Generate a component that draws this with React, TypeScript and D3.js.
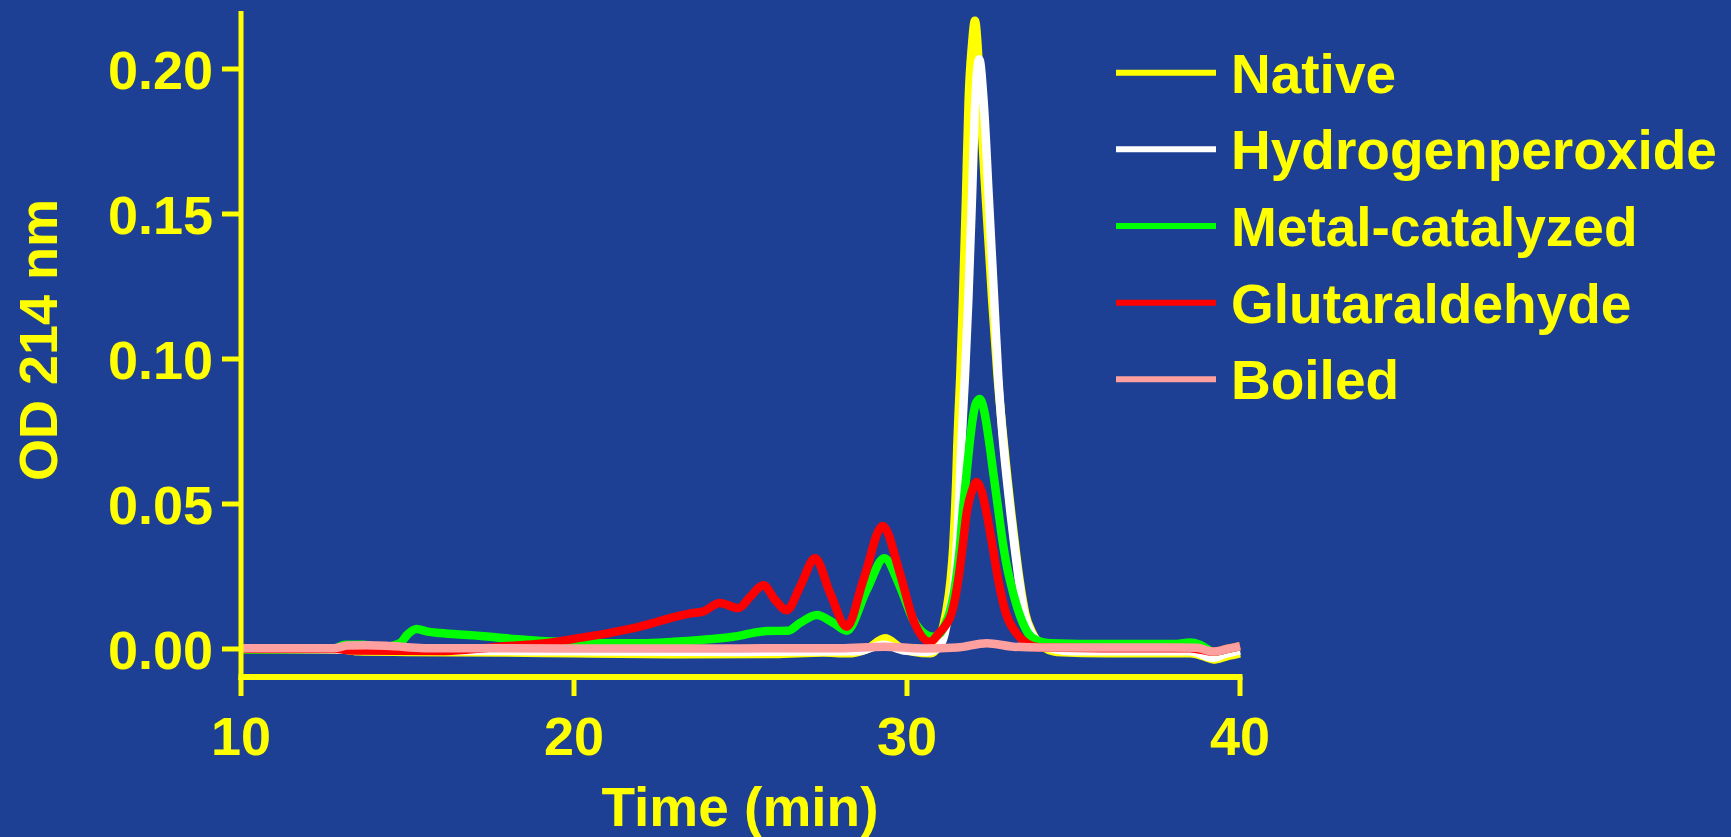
import React from 'react';
import * as d3 from 'd3';

type Pt = [number, number];

const W = 1731;
const H = 837;
const BG = '#1d4095';
const AXIS = '#ffff00';

const xTicks = [10, 20, 30, 40];
const yTicks = [0, 0.05, 0.1, 0.15, 0.2];
const xDomain: [number, number] = [10, 40];
const yDomain: [number, number] = [-0.01, 0.22];

const seriesNames = ['Native', 'Hydrogenperoxide', 'Metal-catalyzed', 'Glutaraldehyde', 'Boiled'];
const seriesColors = ['#ffff00', '#ffffff', '#00ff00', '#ff0000', '#ffa0a0'];

const nativeData: Pt[] = [
  [10, 0.0002], [12.8, 0.0002], [13.5, -0.0008], [15, -0.001], [18, -0.0012], [20, -0.0015],
  [23, -0.0018], [26, -0.0017], [27.5, -0.0012], [28.2, -0.0015], [28.8, 0.0], [29.34, 0.0037],
  [29.8, 0.0005], [30.2, -0.001], [30.7, -0.0015], [30.85, -0.0005], [31.0, 0.004],
  [31.17, 0.0123], [31.31, 0.0238], [31.39, 0.0353], [31.44, 0.0468], [31.48, 0.0583],
  [31.51, 0.0698], [31.55, 0.0813], [31.6, 0.094], [31.68, 0.12], [31.77, 0.155], [31.85, 0.189],
  [31.95, 0.208], [32.04, 0.2166], [32.12, 0.208], [32.2, 0.189], [32.37, 0.155], [32.56, 0.12],
  [32.72, 0.094], [32.87, 0.075], [33.02, 0.0583], [33.13, 0.0468], [33.25, 0.0353],
  [33.38, 0.0238], [33.55, 0.0123], [33.77, 0.0054], [34.0, 0.0015], [34.5, -0.001], [36, -0.0015],
  [38.5, -0.0015], [38.9, -0.0025], [39.2, -0.0036], [39.6, -0.0025], [40, -0.0015],
];

const peroxideData: Pt[] = [
  [10, -0.0002], [13, -0.0003], [16, -0.0006], [20, -0.0008], [25, -0.001], [28.5, -0.0008],
  [29.3, 0.0015], [29.9, -0.0005], [30.6, -0.001], [30.9, 0.0], [31.1, 0.004], [31.25, 0.0123],
  [31.42, 0.0238], [31.55, 0.0468], [31.63, 0.0698], [31.74, 0.094], [31.84, 0.12], [31.95, 0.155],
  [32.05, 0.189], [32.17, 0.2034], [32.3, 0.189], [32.46, 0.155], [32.62, 0.12], [32.74, 0.094],
  [32.86, 0.075], [33.0, 0.0583], [33.11, 0.0468], [33.23, 0.0353], [33.36, 0.0238],
  [33.52, 0.0123], [33.74, 0.0054], [34.0, 0.002], [34.4, 0.0], [35, -0.0008],
  [38.5, -0.0008], [39.2, -0.003], [39.6, -0.0015], [40, -0.0005],
];

const metalData: Pt[] = [
  [10, -0.0003], [12.8, 0.0], [13.1, 0.0015], [13.7, 0.0015], [14.2, 0.0005], [14.77, 0.002],
  [15.0, 0.005], [15.27, 0.0069], [15.6, 0.006], [15.97, 0.0055], [17.0, 0.0047], [17.48, 0.0042],
  [18.5, 0.0032], [19.5, 0.0025], [21, 0.002], [22, 0.002], [23, 0.0025], [23.78, 0.0031],
  [24.78, 0.0042], [25.79, 0.0062], [26.43, 0.0063], [26.79, 0.009], [27.29, 0.0117],
  [27.79, 0.009], [28.19, 0.0063], [28.79, 0.0203], [29.32, 0.0313], [29.79, 0.0215],
  [30.19, 0.01], [30.5, 0.0055], [30.78, 0.0042], [31.0, 0.0055], [31.12, 0.008],
  [31.27, 0.0123], [31.47, 0.0238], [31.59, 0.0353], [31.67, 0.0468], [31.77, 0.0583],
  [31.87, 0.0698], [31.98, 0.08], [32.08, 0.085], [32.19, 0.0862], [32.32, 0.082], [32.46, 0.072],
  [32.6, 0.06], [32.73, 0.049], [32.86, 0.038], [33.0, 0.0285], [33.14, 0.0215], [33.37, 0.0123],
  [33.64, 0.0054], [33.9, 0.003], [34.3, 0.002], [36, 0.0017], [38, 0.0017], [38.5, 0.0022],
  [38.8, 0.0015], [39.2, -0.0009], [39.6, 0.0], [40, 0.001],
];

const glutaraldehydeData: Pt[] = [
  [10, 0.0], [12.9, 0.0], [13.3, -0.0005], [16, -0.0007], [17, 0.0], [18, 0.001], [19, 0.0018],
  [19.5, 0.0025], [20, 0.0035], [21, 0.0054], [22, 0.0078], [22.5, 0.0094], [23, 0.011],
  [23.5, 0.0123], [23.87, 0.0129], [24.38, 0.0159], [24.93, 0.0141], [25.29, 0.018],
  [25.69, 0.022], [26.04, 0.0169], [26.39, 0.0134], [26.79, 0.0215], [27.24, 0.0313],
  [27.69, 0.0193], [28.19, 0.0077], [28.69, 0.0238], [29.27, 0.0424], [29.79, 0.026],
  [30.19, 0.01], [30.69, 0.0025], [30.96, 0.0054], [31.15, 0.008], [31.34, 0.0123],
  [31.54, 0.0238], [31.67, 0.0353], [31.79, 0.0468], [31.95, 0.0545], [32.09, 0.0576],
  [32.24, 0.0545], [32.39, 0.0468], [32.57, 0.0353], [32.74, 0.0238], [32.97, 0.0123],
  [33.29, 0.0054], [33.6, 0.002], [34.0, 0.0005], [36, 0.0003], [38.5, 0.0003],
  [39.2, -0.0009], [39.6, 0.0], [40, 0.001],
];

const boiledData: Pt[] = [
  [10, 0.0003], [12.8, 0.0003], [13.2, 0.0012], [13.8, 0.0013], [14.5, 0.001], [15.5, 0.0003],
  [20, 0.0002], [25, 0.0002], [28, 0.0003], [29.3, 0.0008], [30.5, 0.0002], [31.5, 0.0005],
  [32.4, 0.002], [33.2, 0.0008], [34, 0.0005], [38, 0.0005], [38.7, 0.0004], [39.2, -0.0009],
  [39.6, 0.0], [40, 0.001],
];

const seriesData = [nativeData, peroxideData, metalData, glutaraldehydeData, boiledData];

const FONT = '"Liberation Sans", Arial, Helvetica, sans-serif';

export default function App() {
  const x = d3.scaleLinear().domain(xDomain).range([241, 1240]);
  const y = d3.scaleLinear().domain(yDomain).range([678, 11]);
  const line = d3
    .line<Pt>()
    .x((d) => x(d[0]))
    .y((d) => y(d[1]))
    .curve(d3.curveMonotoneX);
  const fmt = d3.format('.2f');
  const xAxisY = 677;
  const legendX0 = 1116;
  const legendY0 = 72.7;
  const legendStep = 76.65;

  return (
    <div style={{ position: 'fixed', left: 0, top: 0, width: W, height: H, background: BG, overflow: 'hidden' }}>
      <svg width={W} height={H} style={{ display: 'block' }} fontFamily={FONT} fontWeight="bold">
        <rect x={0} y={0} width={W} height={H} fill={BG} />

        {/* data lines */}
        <g fill="none" strokeWidth={8.5} strokeLinejoin="round">
          {seriesData.map((d, i) => (
            <path key={seriesNames[i]} d={line(d) || ''} stroke={seriesColors[i]} />
          ))}
        </g>

        {/* y axis */}
        <line x1={x(10)} x2={x(10)} y1={y(0.22)} y2={xAxisY + 3} stroke={AXIS} strokeWidth={5} />
        {yTicks.map((t) => (
          <g key={'y' + t}>
            <line x1={x(10) - 19} x2={x(10)} y1={y(t)} y2={y(t)} stroke={AXIS} strokeWidth={5} />
            <text x={x(10) - 28} y={y(t) + 20} fill={AXIS} fontSize={54} textAnchor="end">
              {fmt(t)}
            </text>
          </g>
        ))}

        {/* x axis */}
        <line x1={x(10) - 2.5} x2={x(40) + 2.5} y1={xAxisY} y2={xAxisY} stroke={AXIS} strokeWidth={6} />
        {xTicks.map((t) => (
          <g key={'x' + t}>
            <line x1={x(t)} x2={x(t)} y1={xAxisY} y2={xAxisY + 19} stroke={AXIS} strokeWidth={5} />
            <text x={x(t)} y={755} fill={AXIS} fontSize={54} textAnchor="middle">
              {t}
            </text>
          </g>
        ))}

        {/* axis titles */}
        <text x={740} y={826} fill={AXIS} fontSize={55} textAnchor="middle">
          Time (min)
        </text>
        <text transform="translate(57,340) rotate(-90)" fill={AXIS} fontSize={54} textAnchor="middle">
          OD 214 nm
        </text>

        {/* legend */}
        {seriesNames.map((name, i) => {
          const ly = legendY0 + i * legendStep;
          return (
            <g key={'leg' + name}>
              <line x1={legendX0} x2={legendX0 + 100} y1={ly} y2={ly} stroke={seriesColors[i]} strokeWidth={6} />
              <text x={legendX0 + 115} y={ly + 20} fill={AXIS} fontSize={55}>
                {name}
              </text>
            </g>
          );
        })}
      </svg>
    </div>
  );
}
